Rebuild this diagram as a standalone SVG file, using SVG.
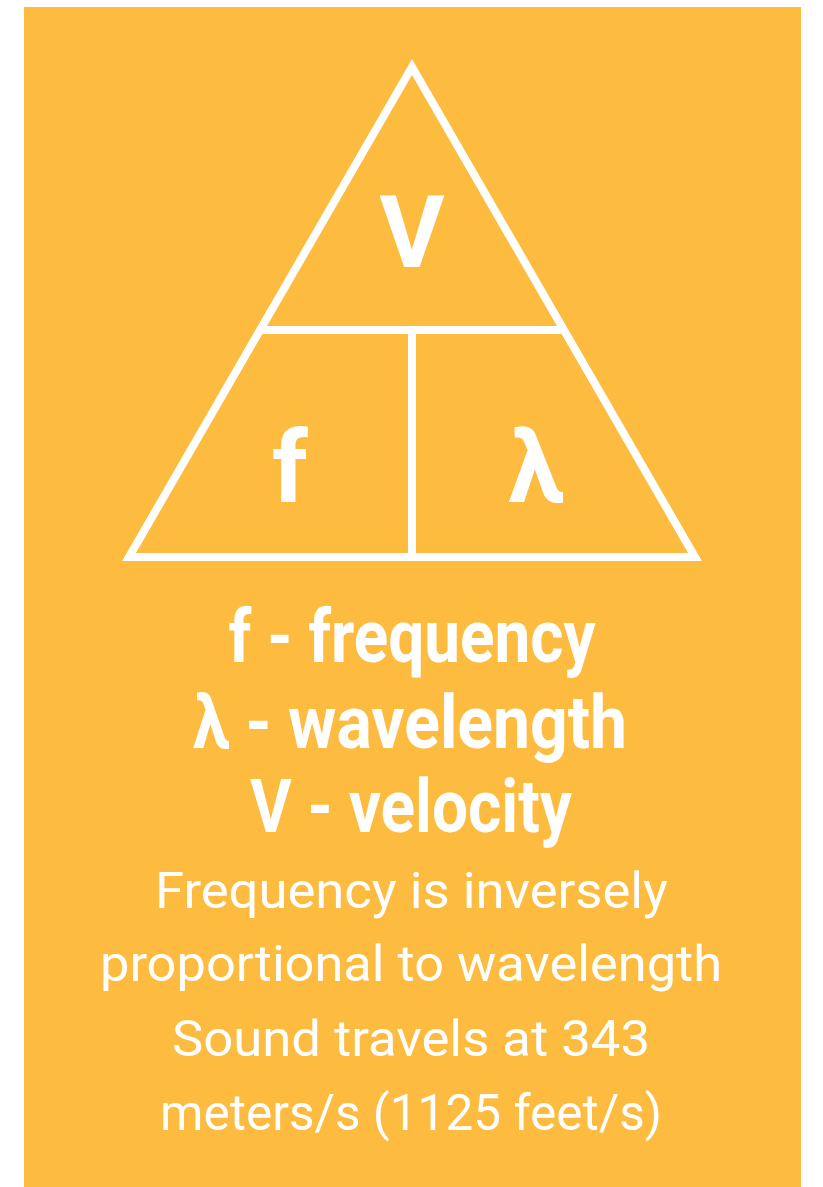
<svg xmlns="http://www.w3.org/2000/svg" width="823" height="1187" viewBox="0 0 823 1187">
<style>
.ln{fill:none;stroke:#fff;stroke-width:8;stroke-linejoin:miter;stroke-miterlimit:10}
.big{font-family:Roboto,"Liberation Sans",sans-serif;font-weight:bold;fill:#fff;text-anchor:middle}
.lbl{font-family:Roboto,"Liberation Sans",sans-serif;font-weight:bold;font-size:74px;fill:#fff;text-anchor:middle}
.txt{font-family:Roboto,"Liberation Sans",sans-serif;font-size:50px;fill:#fff;text-anchor:middle}
</style>
<rect x="0" y="0" width="823" height="1187" fill="#fff"/>
<rect x="24" y="7" width="777" height="1180" fill="#FDBC3F"/>
<g id="triangle">
<path class="ln" d="M412 67 L695 557 L129 557 Z"/>
<line class="ln" x1="260" y1="330" x2="564" y2="330"/>
<line class="ln" x1="412" y1="330" x2="412" y2="557"/>
</g>
<g id="node-v"><text class="big" x="412" y="267" font-size="100">V</text></g>
<g id="node-f"><text class="big" x="290" y="502" font-size="100">f</text></g>
<g id="node-lambda"><text class="big" x="536" y="502" font-size="100">λ</text></g>
<g id="legend">
<text class="lbl" x="412" y="662" textLength="367" lengthAdjust="spacingAndGlyphs">f - frequency</text>
<text class="lbl" x="410" y="748" textLength="434" lengthAdjust="spacingAndGlyphs">λ - wavelength</text>
<text class="lbl" x="411" y="832" textLength="322" lengthAdjust="spacingAndGlyphs">V - velocity</text>
</g>
<g id="notes">
<text class="txt" x="411.5" y="908" textLength="513" lengthAdjust="spacingAndGlyphs">Frequency is inversely</text>
<text class="txt" x="411" y="981" textLength="622" lengthAdjust="spacingAndGlyphs">proportional to wavelength</text>
<text class="txt" x="411" y="1056" textLength="478" lengthAdjust="spacingAndGlyphs">Sound travels at 343</text>
<text class="txt" x="411" y="1130" textLength="502" lengthAdjust="spacingAndGlyphs">meters/s (1125 feet/s)</text>
</g>
</svg>
